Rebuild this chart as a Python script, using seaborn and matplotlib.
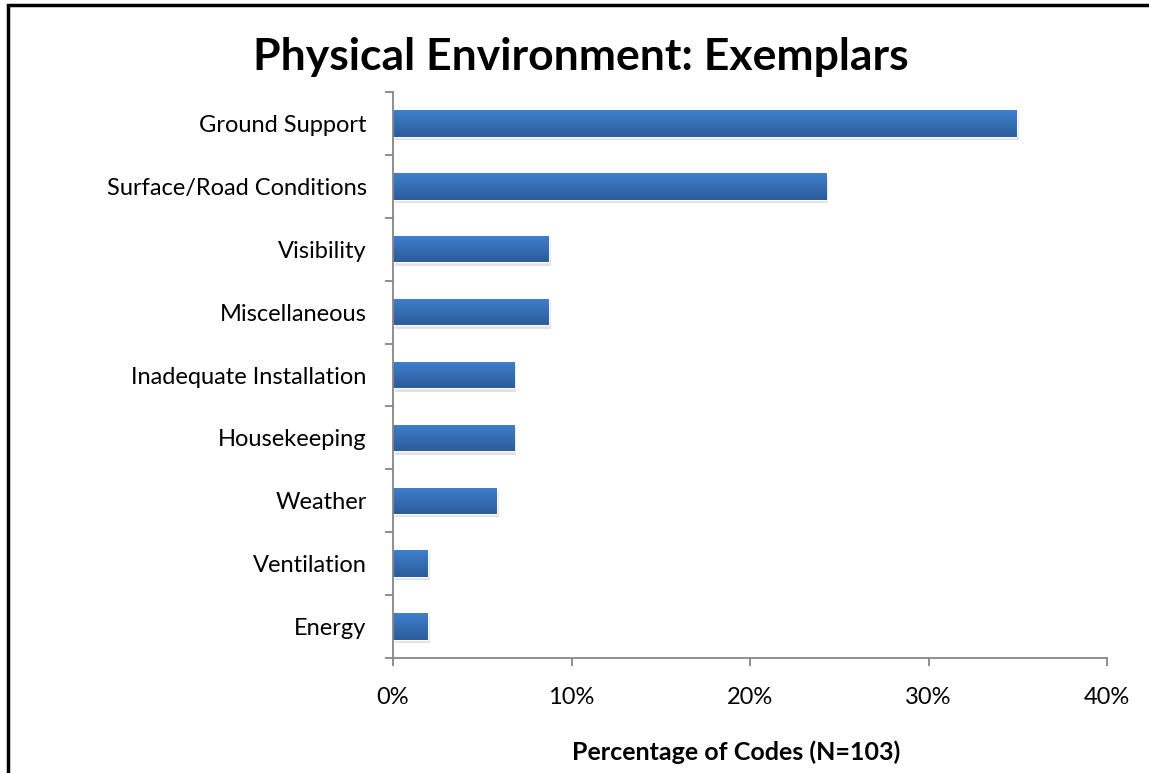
import numpy as np
import pandas as pd
import matplotlib
matplotlib.use("Agg")
import matplotlib.pyplot as plt
import matplotlib.patheffects as pe
from matplotlib.patches import Rectangle
from matplotlib.ticker import FixedLocator, PercentFormatter
import seaborn as sns

# data (counts of codes out of N=103, shown as percentages)
categories = ["Ground Support", "Surface/Road Conditions", "Visibility", "Miscellaneous",
              "Inadequate Installation", "Housekeeping", "Weather", "Ventilation", "Energy"]
counts = [36, 25, 9, 9, 7, 7, 6, 2, 2]
n_total = 103
percent = [c / n_total * 100 for c in counts]

df = pd.DataFrame({"category": categories, "percent": percent})

sns.set_style("white")
plt.rcParams['font.family'] = ['Lato', 'DejaVu Sans']
plt.rcParams['text.color'] = 'black'
plt.rcParams['xtick.labelcolor'] = 'black'
plt.rcParams['ytick.labelcolor'] = 'black'

fig = plt.figure(figsize=(11.49, 7.73), dpi=100)
ax = fig.add_axes([393/1149, 1 - 658/773, (1107-393)/1149, (658-92)/773])

sns.barplot(data=df, x="percent", y="category", orient="h", color="#3A72BD",
            width=0.42, ax=ax, saturation=1)

# excel-ish gradient + soft shadow on each bar
grad = np.linspace(0, 1, 64).reshape(-1, 1)
cmap = matplotlib.colors.LinearSegmentedColormap.from_list("bar", ["#3F7FCC", "#2C5C9B"])
for p in ax.patches:
    x0, y0 = p.get_x(), p.get_y()
    w, h = p.get_width(), p.get_height()
    p.set_path_effects([pe.SimplePatchShadow(offset=(1.5, -2.5), shadow_rgbFace="#a0a0a0", alpha=0.3),
                        pe.Normal()])
    im = ax.imshow(grad, extent=(x0, x0 + w, y0 + h, y0), aspect="auto", cmap=cmap,
                   zorder=p.get_zorder() + 0.1)
    im.set_clip_path(p)

ax.set_xlim(0, 40)
ax.set_ylim(len(categories) - 0.5, -0.5)
ax.set_xticks([0, 10, 20, 30, 40])
ax.xaxis.set_major_formatter(PercentFormatter(decimals=0))
ax.yaxis.set_minor_locator(FixedLocator(np.arange(-0.5, len(categories), 1)))

ax.tick_params(axis="x", which="major", direction="out", length=6, width=1.3, color="#868686",
               labelsize=17, pad=15, bottom=True)
ax.tick_params(axis="y", which="major", length=0, labelsize=17, pad=19)
ax.tick_params(axis="y", which="minor", direction="out", length=6, width=1.3, color="#868686", left=True)

for s in ["top", "right"]:
    ax.spines[s].set_visible(False)
for s in ["left", "bottom"]:
    ax.spines[s].set_color("#868686")
    ax.spines[s].set_linewidth(1.3)

ax.set_xlabel("")
ax.set_ylabel("")

fig.text(581/1149, 1 - 57/773, "Physical Environment: Exemplars", ha="center", va="center",
         fontsize=32, fontweight="bold")
fig.text(736/1149, 1 - 752/773, "Percentage of Codes (N=103)", ha="center", va="center",
         fontsize=18, fontweight="bold")

# chart frame (cut off on right and bottom like the original)
fig.patches.append(Rectangle((8/1149, -0.1), 1.2, 1 - 5/773 + 0.1, transform=fig.transFigure,
                             fill=False, edgecolor="black", linewidth=2.5))

fig.savefig("out.png", dpi=100)
